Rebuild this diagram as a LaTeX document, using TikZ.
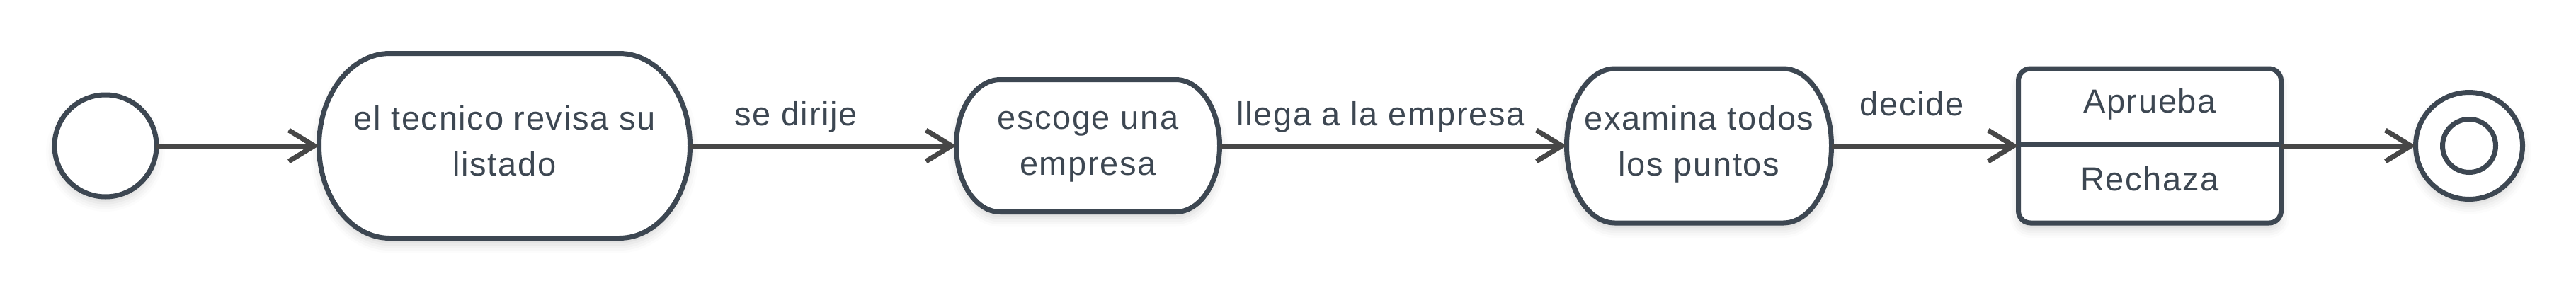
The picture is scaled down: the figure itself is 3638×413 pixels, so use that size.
\documentclass[tikz,border=0pt]{standalone}
\usepackage{fontspec}
\setmainfont{Liberation Sans}[LetterSpace=3.5]
\usetikzlibrary{arrows.meta,shadows.blur,calc}
\definecolor{slate}{HTML}{3D4752}
\definecolor{arrowgray}{HTML}{474747}
\tikzset{
  shapebox/.style={rectangle, draw=none, inner sep=0pt, outer sep=0pt},
  body/.style={draw=slate, line width=7pt, fill=white,
    blur shadow={shadow xshift=0pt, shadow yshift=-9pt, shadow blur radius=12pt, shadow opacity=16}},
  txt/.style={text=slate, inner sep=0pt, align=center, font=\fontsize{47}{65}\selectfont},
  flow/.style={draw=arrowgray, line width=7pt, -{Straight Barb[length=36pt,width=44pt]}},
}
\newcommand{\stateoutline}[3]{%
  \path[body] ([xshift=#2]#1.north west) -- ([xshift=-#2]#1.north east)
    arc[start angle=90,end angle=0,x radius=#2,y radius=#3]
    arc[start angle=0,end angle=-90,x radius=#2,y radius=#3]
    -- ([xshift=#2]#1.south west)
    arc[start angle=270,end angle=180,x radius=#2,y radius=#3]
    arc[start angle=180,end angle=90,x radius=#2,y radius=#3] -- cycle;}
\begin{document}
\begin{tikzpicture}[x=1pt,y=1pt]
\useasboundingbox (0,0) rectangle (3638,-413);
% initial state
\node[circle, minimum size=144pt, inner sep=0pt, outer sep=0pt, body] (start) at (149,-206) {};
% activity shapes
\node[shapebox, minimum width=524pt, minimum height=261pt] (s1) at (712.5,-206) {};
\node[shapebox, minimum width=372pt, minimum height=187pt] (s2) at (1536.5,-206) {};
\node[shapebox, minimum width=374pt, minimum height=218pt] (s3) at (2399.5,-206) {};
\stateoutline{s1}{100pt}{130.5pt}
\stateoutline{s2}{62pt}{93.5pt}
\stateoutline{s3}{68pt}{109pt}
% decision box
\node[shapebox, minimum width=371pt, minimum height=218pt, body, rounded corners=17pt] (s4) at (3036,-206) {};
\draw[draw=slate, line width=7pt] ([yshift=2pt]s4.west) -- ([yshift=2pt]s4.east);
% final state
\node[circle, minimum size=151pt, inner sep=0pt, outer sep=0pt, body] (final) at (3487,-206) {};
\node[circle, minimum size=75pt, inner sep=0pt, draw=slate, line width=7pt] (finalin) at (final.center) {};
% texts
\node[txt, anchor=north] (t1) at (712.5,-137.5) {\strut el tecnico revisa su\\listado};
\node[txt, anchor=north] (t2) at (1536.5,-136.5) {\strut escoge una\\empresa};
\node[txt, anchor=north] (t3) at (2399.5,-137.5) {\strut examina todos\\los puntos};
\node[txt, anchor=base] (t4a) at (3036,-159) {Aprueba};
\node[txt, anchor=base] (t4b) at (3036,-269) {Rechaza};
% connectors
\draw[flow] (start.east) -- (s1.west);
\draw[flow] (s1.east) -- (s2.west);
\draw[flow] (s2.east) -- (s3.west);
\draw[flow] (s3.east) -- (s4.west);
\draw[flow] (s4.east) -- (final.west);
% labels
\node[txt, anchor=base] (l1) at (1124,-177) {se dirije};
\node[txt, anchor=base] (l2) at (1950,-177) {llega a la empresa};
\node[txt, anchor=base] (l3) at (2700,-163) {decide};
\end{tikzpicture}
\end{document}
